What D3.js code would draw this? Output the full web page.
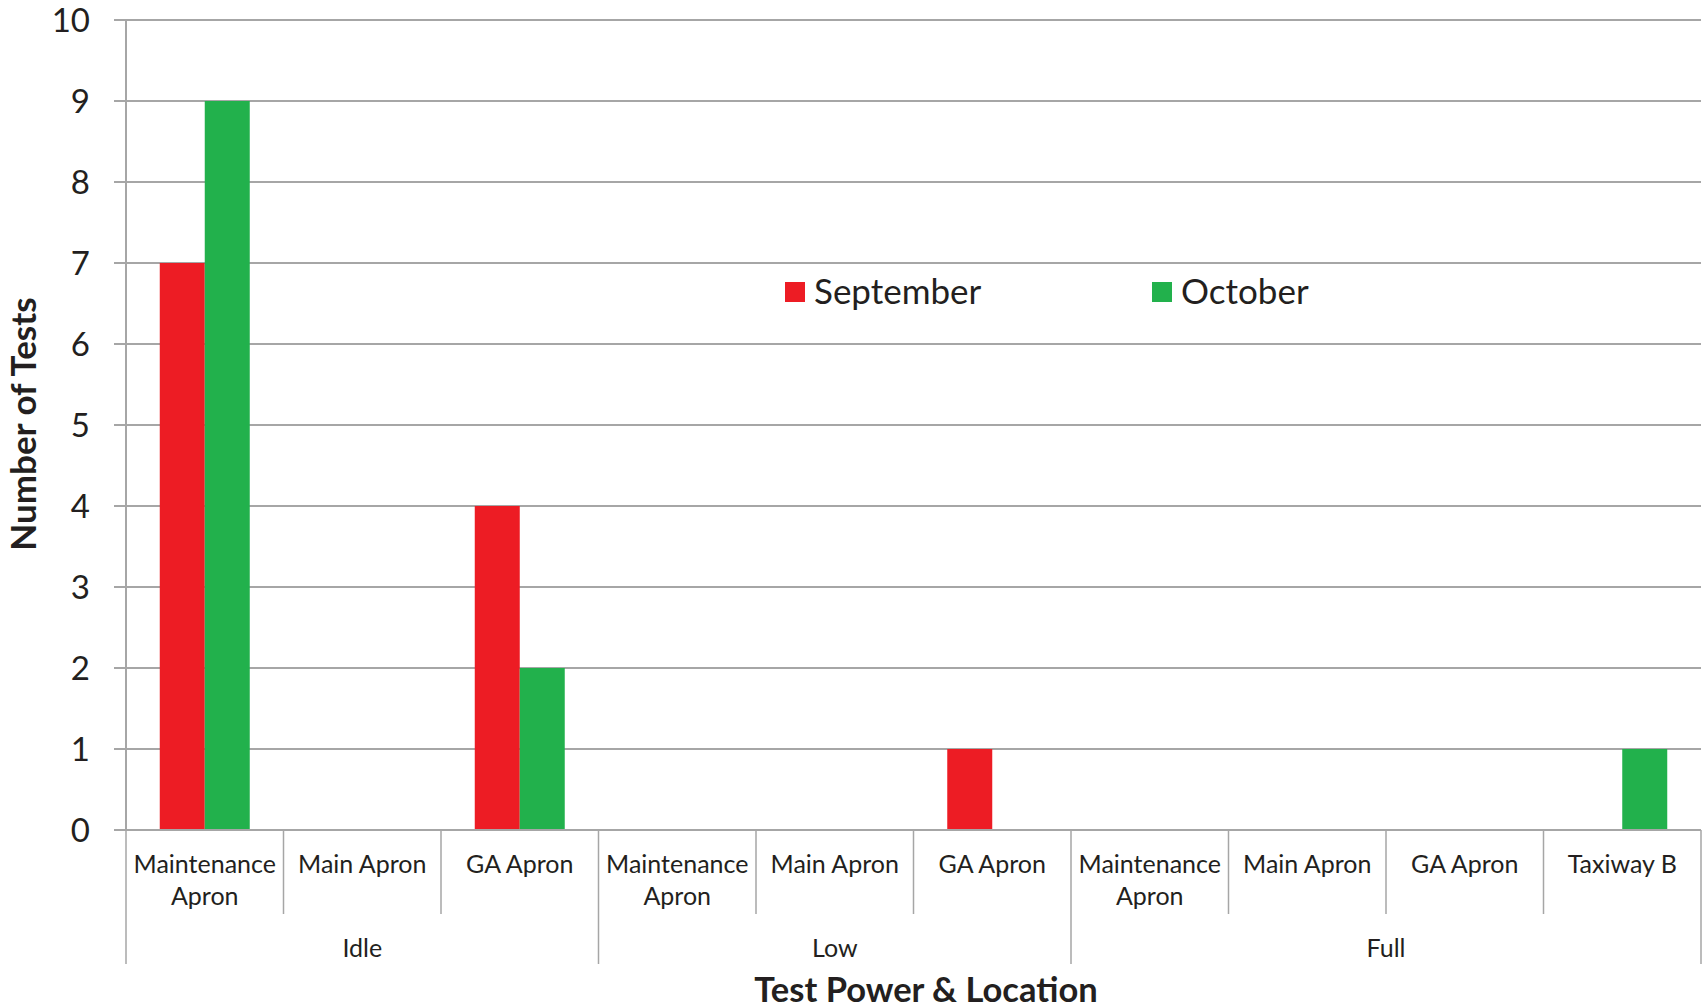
<!DOCTYPE html>
<html><head><meta charset="utf-8">
<script src="https://cdn.jsdelivr.net/npm/d3@7"></script>
<style>body{margin:0;background:#fff;} text{font-family:Lato, "Open Sans", sans-serif; fill:#231F20;}</style>
</head><body>
<svg id="c" width="1706" height="1008"></svg>
<script>
const groups = ["Idle", "Low", "Full"];
const locations = [
  ["Maintenance Apron", "Main Apron", "GA Apron"],
  ["Maintenance Apron", "Main Apron", "GA Apron"],
  ["Maintenance Apron", "Main Apron", "GA Apron", "Taxiway B"]
];
const seriesNames = ["September", "October"];
const september = [7, 0, 4, 0, 0, 1, 0, 0, 0, 0];
const october   = [9, 0, 2, 0, 0, 0, 0, 0, 0, 1];
const colors = ["#ED1C24", "#22B14C"];
const yTicks = [0,1,2,3,4,5,6,7,8,9,10];

(function(){
const cats = [];
groups.forEach((g, gi) => locations[gi].forEach(l => cats.push({group: g, loc: l})));
cats.forEach((c, i) => c.id = i);

const svg = d3.select("#c");
const mL = 126, mR = 1701, mT = 20, mB = 830;
const x = d3.scaleBand().domain(cats.map(c => c.id)).range([mL, mR]).padding(0);
const y = d3.scaleLinear().domain([0, 10]).range([mB, mT]);
const grid = "#A6A6A6";

svg.append("g").selectAll("line").data(yTicks).join("line")
  .attr("x1", mL - 12).attr("x2", mR)
  .attr("y1", d => y(d)).attr("y2", d => y(d))
  .attr("stroke", grid).attr("stroke-width", 2);
svg.append("line").attr("x1", mL).attr("x2", mL).attr("y1", mT).attr("y2", mB)
  .attr("stroke", grid).attr("stroke-width", 2);
svg.append("g").selectAll("text").data(yTicks).join("text")
  .attr("x", 90).attr("y", d => y(d)).attr("dy", "0.36em")
  .attr("text-anchor", "end").style("font-size", "33px").text(d => d);

const bw = x.bandwidth() * 0.2857;
const sub = d3.scaleBand().domain([0, 1]).range([0, bw * 2]);
const seriesData = [september, october];
seriesData.forEach((vals, si) => {
  svg.append("g").selectAll("rect").data(vals.map((v, i) => ({v, i})).filter(d => d.v > 0)).join("rect")
    .attr("x", d => x(d.i) + x.bandwidth() / 2 - bw + sub(si))
    .attr("width", bw)
    .attr("y", d => y(d.v)).attr("height", d => y(0) - y(d.v))
    .attr("fill", colors[si]);
});

svg.append("line").attr("x1", mL - 12).attr("x2", mR).attr("y1", mB).attr("y2", mB)
  .attr("stroke", grid).attr("stroke-width", 2);

const sepLines = [];
cats.forEach((c, i) => {
  const isGroupStart = i === 0 || cats[i-1].group !== c.group;
  sepLines.push({x: x(c.id), big: isGroupStart});
});
sepLines.push({x: mR, big: true});
svg.append("g").selectAll("line").data(sepLines).join("line")
  .attr("x1", d => d.x).attr("x2", d => d.x)
  .attr("y1", mB).attr("y2", d => d.big ? 964 : 914)
  .attr("stroke", grid).attr("stroke-width", 1.5);

const lab = svg.append("g").selectAll("text").data(cats).join("text")
  .attr("x", d => x(d.id) + x.bandwidth() / 2)
  .attr("text-anchor", "middle").style("font-size", "25px");
lab.each(function(d) {
  const t = d3.select(this);
  const parts = d.loc === "Maintenance Apron" ? ["Maintenance", "Apron"] : [d.loc];
  parts.forEach((p, k) => t.append("tspan").attr("x", x(d.id) + x.bandwidth() / 2).attr("y", 873 + k * 32).text(p));
});

groups.forEach((g, gi) => {
  const ids = cats.filter(c => c.group === g).map(c => c.id);
  const x0 = x(ids[0]), x1 = x(ids[ids.length - 1]) + x.bandwidth();
  svg.append("text").attr("x", (x0 + x1) / 2).attr("y", 957).attr("text-anchor", "middle")
    .style("font-size", "25px").text(g);
});

svg.append("text").attr("x", 926).attr("y", 1002).attr("text-anchor", "middle")
  .style("font-size", "34.5px").style("font-weight", "bold").text("Test Power & Location");
svg.append("text").attr("transform", "translate(36,424) rotate(-90)").attr("text-anchor", "middle")
  .style("font-size", "35px").style("font-weight", "bold").text("Number of Tests");

const legX = [785, 1152];
seriesNames.forEach((s, i) => {
  svg.append("rect").attr("x", legX[i]).attr("y", 282).attr("width", 20).attr("height", 20).attr("fill", colors[i]);
  svg.append("text").attr("x", legX[i] + 29).attr("y", 304).style("font-size", "35px").text(s);
});
})();
</script>
</body></html>
